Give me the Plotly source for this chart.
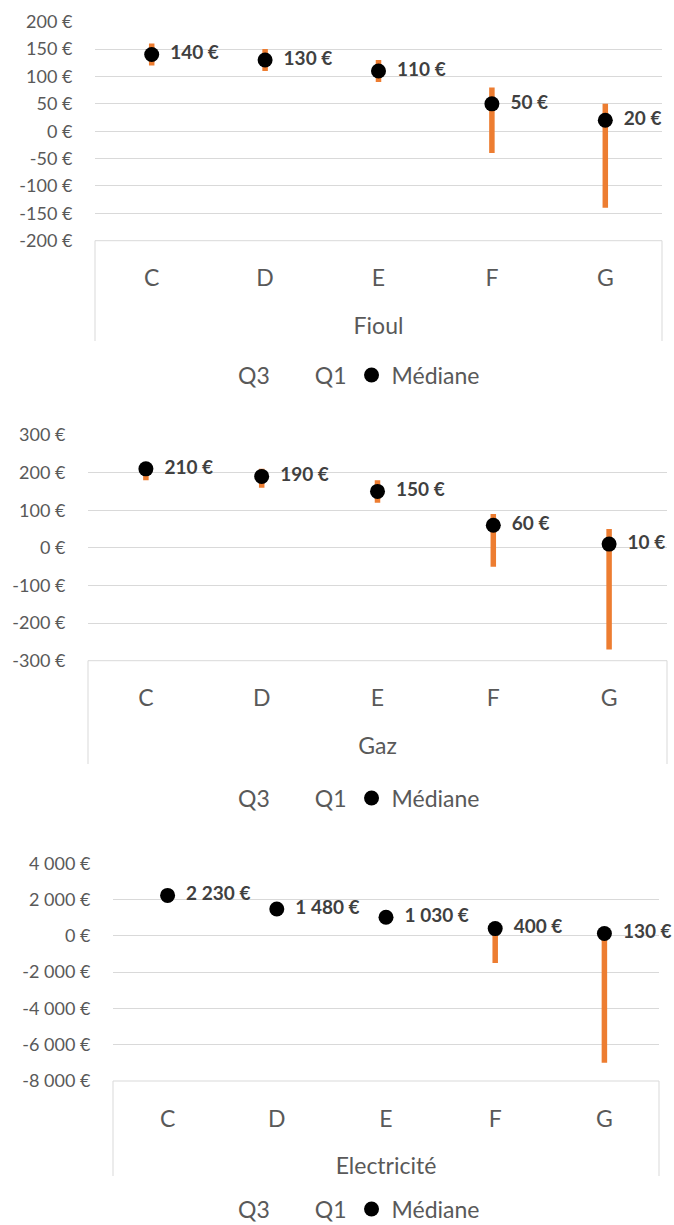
import plotly.graph_objects as go

W, H = 674, 1225

categories = ["C", "D", "E", "F", "G"]

# Fioul
fioul_q3 = [160, 150, 130, 80, 50]
fioul_q1 = [120, 110, 90, -40, -140]
fioul_med = [140, 130, 110, 50, 20]

# Gaz
gaz_q3 = [220, 210, 180, 90, 50]
gaz_q1 = [180, 160, 120, -50, -270]
gaz_med = [210, 190, 150, 60, 10]

# Electricité
elec_q3 = [2450, 1700, 1250, 650, 350]
elec_q1 = [2000, 1250, 800, -1500, -7000]
elec_med = [2230, 1480, 1030, 400, 130]

panels = [
    dict(name="Fioul", q3=fioul_q3, q1=fioul_q1, med=fioul_med,
         rng=(-200, 200), step=50, px=(95, 662), py=(21.7, 240.7),
         legend_y=375, box_bottom=341),
    dict(name="Gaz", q3=gaz_q3, q1=gaz_q1, med=gaz_med,
         rng=(-300, 300), step=100, px=(88, 667), py=(435, 660.7),
         legend_y=798, box_bottom=764),
    dict(name="Electricité", q3=elec_q3, q1=elec_q1, med=elec_med,
         rng=(-8000, 4000), step=2000, px=(113, 659), py=(863.3, 1081),
         legend_y=1209, box_bottom=1176),
]

FONT = "Lato"
GREY = "#595959"
GRID = "#D9D9D9"
ORANGE = "#ED7D31"
BIG = 23


def fmt(v):
    return f"{v:,}".replace(",", " ") + " €"


fig = go.Figure()
layout = dict(width=W, height=H, autosize=False,
              margin=dict(l=0, r=0, t=0, b=0, autoexpand=False),
              paper_bgcolor="white", plot_bgcolor="white",
              font=dict(family=FONT, size=19, color=GREY),
              showlegend=True, shapes=[])

for i, p in enumerate(panels):
    n = "" if i == 0 else str(i + 1)
    xa, ya = "x" + n, "y" + n
    leg = "legend" + n
    # high-low line between Q1 and Q3
    hx, hy = [], []
    for c, a, b in zip(categories, p["q1"], p["q3"]):
        hx += [c, c, None]
        hy += [a, b, None]
    fig.add_trace(go.Scatter(x=hx, y=hy, mode="lines",
                             line=dict(color=ORANGE, width=5.5),
                             showlegend=False, hoverinfo="skip",
                             xaxis=xa, yaxis=ya))
    fig.add_trace(go.Scatter(x=categories, y=p["q3"], name="Q3", mode="lines",
                             line=dict(width=0, color="rgba(0,0,0,0)"),
                             legend=leg, xaxis=xa, yaxis=ya))
    fig.add_trace(go.Scatter(x=categories, y=p["q1"], name="Q1", mode="lines",
                             line=dict(width=0, color="rgba(0,0,0,0)"),
                             legend=leg, xaxis=xa, yaxis=ya))
    fig.add_trace(go.Scatter(x=categories, y=p["med"], name="Médiane",
                             mode="markers",
                             marker=dict(color="black", size=15),
                             legend=leg, xaxis=xa, yaxis=ya))
    # data labels (offset from the dot by an invisible, larger marker)
    fig.add_trace(go.Scatter(x=categories, y=p["med"], mode="markers+text",
                             marker=dict(color="rgba(0,0,0,0)", size=28),
                             text=[fmt(v) for v in p["med"]],
                             textposition="middle right",
                             textfont=dict(family=FONT, size=19, color="#404040",
                                           weight="bold"),
                             cliponaxis=False,
                             showlegend=False, hoverinfo="skip",
                             xaxis=xa, yaxis=ya))

    x0, x1 = p["px"][0] / W, p["px"][1] / W
    y0, y1 = 1 - p["py"][1] / H, 1 - p["py"][0] / H
    lo, hi = p["rng"]
    tv = list(range(lo, hi + 1, p["step"]))
    layout["xaxis" + n] = dict(domain=[x0, x1], anchor=ya, type="category",
                               categoryorder="array", categoryarray=categories,
                               range=[-0.5, 4.5], showgrid=False, zeroline=False,
                               showline=False, ticks="outside", ticklen=17,
                               tickcolor="rgba(0,0,0,0)", automargin=False,
                               tickfont=dict(size=BIG, color=GREY),
                               title=dict(text=p["name"], standoff=27,
                                          font=dict(size=BIG, color=GREY)))
    layout["yaxis" + n] = dict(domain=[y0, y1], anchor=xa, range=[lo, hi],
                               tickvals=tv, ticktext=[fmt(v) for v in tv],
                               showgrid=True, gridcolor=GRID, gridwidth=1,
                               zeroline=False, showline=False, automargin=False,
                               ticks="outside", ticklen=18,
                               tickcolor="rgba(0,0,0,0)",
                               tickfont=dict(size=18, color=GREY))
    layout[leg] = dict(orientation="h", x=198 / W, xanchor="left",
                       y=1 - p["legend_y"] / H, yanchor="middle",
                       font=dict(size=BIG, color=GREY),
                       bgcolor="rgba(0,0,0,0)", itemwidth=30)
    # category axis box
    yb = 1 - p["box_bottom"] / H
    for xx in (0, 1):
        layout["shapes"].append(dict(type="line", xref=xa + " domain", yref="paper",
                                     x0=xx, x1=xx, y0=y0, y1=yb,
                                     line=dict(color=GRID, width=1)))
    layout["shapes"].append(dict(type="line", xref=xa + " domain", yref="paper",
                                 x0=0, x1=1, y0=y0, y1=y0,
                                 line=dict(color=GRID, width=1)))

fig.update_layout(**layout)
fig.write_html("out.html",
               config={"displayModeBar": False},
               post_script="document.body.style.margin='0';"
                           "document.body.style.overflow='hidden';")
